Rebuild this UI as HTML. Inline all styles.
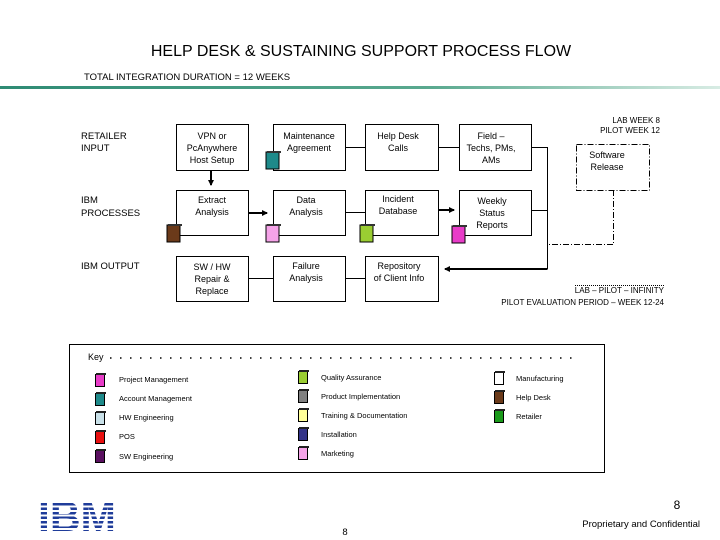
<!DOCTYPE html>
<html><head><meta charset="utf-8"><style>
html,body{margin:0;padding:0;background:#fff;}
svg{display:block;font-family:"Liberation Sans",sans-serif;}
</style></head><body>
<svg width="720" height="540" viewBox="0 0 720 540" xmlns="http://www.w3.org/2000/svg">
<defs>
<linearGradient id="g" x1="0" x2="1" y1="0" y2="0">
<stop offset="0" stop-color="#2e8b74"/><stop offset="0.6" stop-color="#5aa98f"/><stop offset="1" stop-color="#d8ece4"/></linearGradient>
<marker id="ar" markerWidth="6" markerHeight="6" refX="5" refY="3" orient="auto" markerUnits="userSpaceOnUse"><path d="M0,0 L6,3 L0,6 z" fill="#000"/></marker>
<g id="doc"><rect x="0" y="1" width="13" height="17" stroke="#000" stroke-width="1"/><rect x="1" y="0" width="14" height="2" fill="#333"/></g>
<g id="kdoc"><rect x="0.5" y="1.5" width="9" height="12" stroke="#000" stroke-width="1"/><rect x="1" y="0" width="10" height="2" fill="#222"/></g>
</defs>
<text x="361" y="56" font-size="16" text-anchor="middle">HELP DESK &amp; SUSTAINING SUPPORT PROCESS FLOW</text>
<text x="84" y="80" font-size="9.5">TOTAL INTEGRATION DURATION = 12 WEEKS</text>
<rect x="0" y="86" width="720" height="3" fill="url(#g)"/>

<g font-size="9.5">
<text x="81" y="139">RETAILER</text><text x="81" y="151">INPUT</text>
<text x="81" y="203">IBM</text><text x="81" y="216">PROCESSES</text>
<text x="81" y="269">IBM OUTPUT</text>
</g>

<g fill="#fff" stroke="#000" stroke-width="1">
<rect x="176.5" y="124.5" width="72" height="46"/>
<rect x="273.5" y="124.5" width="72" height="46"/>
<rect x="365.5" y="124.5" width="73" height="46"/>
<rect x="459.5" y="124.5" width="72" height="46"/>
<rect x="176.5" y="190.5" width="72" height="45"/>
<rect x="273.5" y="190.5" width="72" height="45"/>
<rect x="365.5" y="190.5" width="73" height="45"/>
<rect x="459.5" y="190.5" width="72" height="45"/>
<rect x="176.5" y="256.5" width="72" height="45"/>
<rect x="273.5" y="256.5" width="72" height="45"/>
<rect x="365.5" y="256.5" width="73" height="45"/>
</g>
<g stroke="#000" stroke-width="1" fill="none">
<line x1="345" y1="147.5" x2="365" y2="147.5"/>
<line x1="438" y1="147.5" x2="459" y2="147.5"/>
<line x1="345" y1="212.5" x2="365" y2="212.5"/>
<line x1="249" y1="278.5" x2="273" y2="278.5"/>
<line x1="345" y1="278.5" x2="365" y2="278.5"/>
<polyline points="531,147.5 547.5,147.5 547.5,269.5"/>
<line x1="531" y1="210.5" x2="547" y2="210.5"/>
<rect x="576.5" y="144.5" width="73" height="46" stroke-dasharray="6,2,1,2"/>
<polyline points="613.5,190 613.5,244.5 547,244.5" stroke-dasharray="6,2,1,2"/>
</g>
<g stroke="#000" stroke-width="2" fill="none">
<line x1="211" y1="171" x2="211" y2="185" marker-end="url(#ar)"/>
<line x1="249" y1="213" x2="267" y2="213" marker-end="url(#ar)"/>
<line x1="439" y1="210" x2="454" y2="210" marker-end="url(#ar)"/>
<line x1="547" y1="269" x2="445" y2="269" marker-end="url(#ar)"/>
</g>
<g font-size="9" text-anchor="middle">
<text x="212" y="139">VPN or</text><text x="212" y="151">PcAnywhere</text><text x="212" y="163">Host Setup</text>
<text x="309" y="139">Maintenance</text><text x="309" y="151">Agreement</text>
<text x="398" y="139">Help Desk</text><text x="398" y="151">Calls</text>
<text x="491" y="139">Field –</text><text x="491" y="151">Techs, PMs,</text><text x="491" y="163">AMs</text>
<text x="212" y="203">Extract</text><text x="212" y="215">Analysis</text>
<text x="306" y="203">Data</text><text x="306" y="215">Analysis</text>
<text x="398" y="202">Incident</text><text x="398" y="214">Database</text>
<text x="492" y="204">Weekly</text><text x="492" y="216">Status</text><text x="492" y="228">Reports</text>
<text x="212" y="270">SW / HW</text><text x="212" y="282">Repair &amp;</text><text x="212" y="294">Replace</text>
<text x="306" y="269">Failure</text><text x="306" y="281">Analysis</text>
<text x="399" y="269">Repository</text><text x="399" y="281">of Client Info</text>
<text x="607" y="158">Software</text><text x="607" y="170">Release</text>
</g>
<g font-size="8" text-anchor="end">
<text x="660" y="123">LAB WEEK 8</text><text x="660" y="133">PILOT WEEK 12</text>
<text x="664" y="293">LAB – PILOT – INFINITY</text>
<text x="664" y="305">PILOT EVALUATION PERIOD – WEEK 12-24</text>
</g>
<line x1="575" y1="285.5" x2="665" y2="285.5" stroke="#000" stroke-width="1" stroke-dasharray="1,1"/>

<use href="#doc" x="266" y="151" fill="#1e8a8a"/>
<use href="#doc" x="167" y="224" fill="#6b3a1a"/>
<use href="#doc" x="266" y="224" fill="#f5a3e8"/>
<use href="#doc" x="360" y="224" fill="#9acd32"/>
<use href="#doc" x="452" y="225" fill="#e83cc8"/>

<rect x="69.5" y="344.5" width="535" height="128" fill="none" stroke="#000" stroke-width="1"/>
<text x="88" y="360" font-size="9">Key</text>
<line x1="110" y1="358" x2="578" y2="358" stroke="#000" stroke-width="1.5" stroke-dasharray="1.5,8.5"/>
<g font-size="7.5">
<use href="#kdoc" x="95" y="373" fill="#e83cc8"/><text x="119" y="382">Project Management</text>
<use href="#kdoc" x="95" y="392" fill="#1e8a8a"/><text x="119" y="401">Account Management</text>
<use href="#kdoc" x="95" y="411" fill="#c8e0e8"/><text x="119" y="420">HW Engineering</text>
<use href="#kdoc" x="95" y="430" fill="#e81010"/><text x="119" y="439">POS</text>
<use href="#kdoc" x="95" y="449" fill="#5a1060"/><text x="119" y="459">SW Engineering</text>
<use href="#kdoc" x="298" y="370" fill="#9acd32"/><text x="321" y="380">Quality Assurance</text>
<use href="#kdoc" x="298" y="389" fill="#808080"/><text x="321" y="399">Product Implementation</text>
<use href="#kdoc" x="298" y="408" fill="#ffff99"/><text x="321" y="418">Training &amp; Documentation</text>
<use href="#kdoc" x="298" y="427" fill="#333388"/><text x="321" y="437">Installation</text>
<use href="#kdoc" x="298" y="446" fill="#f5a3e8"/><text x="321" y="456">Marketing</text>
<use href="#kdoc" x="494" y="371" fill="#fff"/><text x="516" y="381">Manufacturing</text>
<use href="#kdoc" x="494" y="390" fill="#6b3a1a"/><text x="516" y="400">Help Desk</text>
<use href="#kdoc" x="494" y="409" fill="#1a9a1a"/><text x="516" y="419">Retailer</text>
</g>

<g>
<text x="77" y="531" font-size="42" font-weight="bold" fill="#1f3c9a" text-anchor="middle" textLength="78" lengthAdjust="spacingAndGlyphs">IBM</text>
<g fill="#fff">
<rect x="30" y="501" width="95" height="2"/><rect x="30" y="505.5" width="95" height="2"/>
<rect x="30" y="510" width="95" height="2"/><rect x="30" y="514.5" width="95" height="2"/>
<rect x="30" y="519" width="95" height="2"/><rect x="30" y="523.5" width="95" height="2"/>
<rect x="30" y="528" width="95" height="2"/>
</g>
</g>
<text x="677" y="509" font-size="12" text-anchor="middle">8</text>
<text x="700" y="527" font-size="9.5" text-anchor="end">Proprietary and Confidential</text>
<text x="345" y="535" font-size="9.5" text-anchor="middle">8</text>
</svg>
</body></html>
